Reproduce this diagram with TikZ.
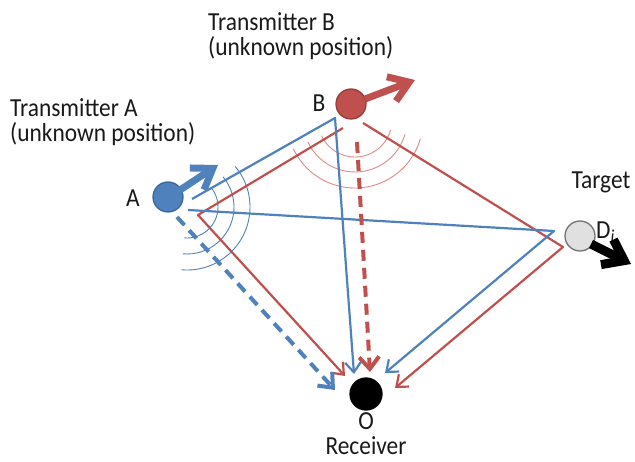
\documentclass[tikz,border=0pt]{standalone}
\usepackage{fontspec}
\setmainfont{Carlito}[FakeStretch=0.9]
\usetikzlibrary{arrows.meta}
\definecolor{myblue}{HTML}{4F81BD}
\definecolor{myred}{HTML}{C0504D}
\definecolor{darkblue}{HTML}{3A679E}
\definecolor{darkred}{HTML}{9B3B39}
\definecolor{arcred}{HTML}{DE8A88}
\begin{document}
\begin{tikzpicture}[x=1pt,y=-1pt,
  lbl/.style={font=\fontsize{26}{25}\selectfont, text=black!90, inner sep=0pt},
  dev/.style={circle, minimum size=30pt, inner sep=0pt, line width=1.3pt},
  thinhead/.style={-{Straight Barb[length=10pt,width=16pt]}},
  bline/.style={myblue, line width=2.2pt, line join=round, thinhead},
  rline/.style={myred, line width=2.2pt, line join=round, thinhead},
  dashline/.style={line width=4pt, dash pattern=on 11pt off 7pt, -{Straight Barb[length=12pt,width=20pt]}},
  bigarrow/.style={line width=7pt, -{Straight Barb[length=19pt,width=26pt]}},
  warc/.style={line width=0.9pt}
]
\useasboundingbox (0,0) rectangle (635,462);

% wave arcs
\coordinate (wA) at (187,207);
\coordinate (wB) at (355,120);
\foreach \r in {31,47,63}
  \draw[warc, myblue] (wA) ++(95:\r) arc[start angle=95, end angle=-40, radius=\r];
\foreach \r in {37,52,68}
  \draw[warc, arcred] (wB) ++(155:\r) arc[start angle=155, end angle=16, radius=\r];

% devices
\node[dev, fill=myblue, draw=darkblue] (A) at (168,197) {};
\node[dev, fill=myred, draw=darkred] (B) at (351,104) {};
\node[dev, fill=black!12, draw=black!55] (T) at (580,236) {};
\node[dev, minimum size=32pt, fill=black, draw=black] (O) at (366,394) {};

% labels
\node[lbl, anchor=north west, align=left] (labA) at (10,98) {Transmitter A\\(unknown position)};
\node[lbl, anchor=north west, align=left] (labB) at (208,12) {Transmitter B\\(unknown position)};
\node[lbl] (nA) at (133,198) {A};
\node[lbl] (nB) at (319,103) {B};
\node[lbl] (labT) at (601,182) {Target};
\node[lbl, anchor=west] (nD) at (596,232) {D\textsubscript{\textit{i}}};
\node[lbl] (nO) at (366,421) {O};
\node[lbl] (labO) at (366,446) {Receiver};

% path coordinates
\coordinate (b1s) at (192,199);
\coordinate (cB) at (335,118);
\coordinate (b1t) at (354,374);
\coordinate (b2s) at (188,210);
\coordinate (cT) at (554,231);
\coordinate (b2t) at (385,373);
\coordinate (bds) at (177,217);
\coordinate (bdt) at (335,390);
\coordinate (r1s) at (343,128);
\coordinate (cA) at (198,215);
\coordinate (r1t) at (345,376);
\coordinate (r2s) at (363,123);
\coordinate (cT2) at (563,247);
\coordinate (r2t) at (395,388);
\coordinate (rds) at (357,142);
\coordinate (rdt) at (370,372);
\coordinate (aAs) at (180,190);
\coordinate (aAt) at (218,165);
\coordinate (aBs) at (365,99);
\coordinate (aBt) at (415,80);
\coordinate (aTs) at (591,244);
\coordinate (aTt) at (631,264);

% signal paths
\draw[rline] (r1s) -- (cA) -- (r1t);
\draw[rline] (r2s) -- (cT2) -- (r2t);
\draw[bline] (b1s) -- (cB) -- (b1t);
\draw[bline] (b2s) -- (cT) -- (b2t);
\draw[dashline, myblue] (bds) -- (bdt);
\draw[dashline, myred] (rds) -- (rdt);

% motion arrows
\draw[bigarrow, myblue] (aAs) -- (aAt);
\draw[bigarrow, myred] (aBs) -- (aBt);
\draw[bigarrow, black, line width=9pt, -{Straight Barb[length=19pt,width=28pt]}] (aTs) -- (aTt);
\end{tikzpicture}
\end{document}
